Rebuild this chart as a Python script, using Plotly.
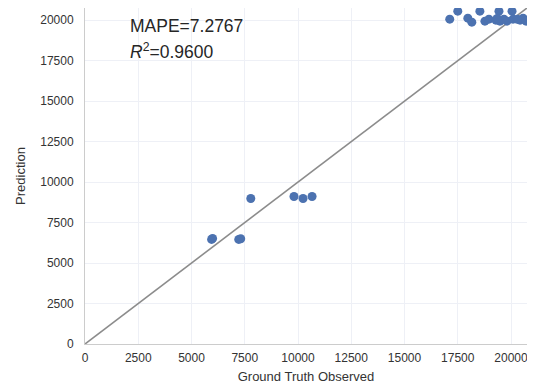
import plotly.graph_objects as go

observed = [5943, 5990, 7217, 7311, 7783, 9811, 10236, 10660,
            17123, 17500, 17972, 18160, 18538, 18774, 18962, 19292, 19434,
            19481, 19670, 19811, 20047, 20094, 20425, 20566, 20708, 19350, 20300]
predicted = [6461, 6520, 6461, 6500, 8985, 9108, 8985, 9108,
             20062, 20554, 20123, 19877, 20554, 19938, 20062, 20000, 20554,
             19938, 20062, 19938, 20554, 20062, 20000, 20123, 19938, 20100, 20050]
axis_max = 20750
tick_vals = [0, 2500, 5000, 7500, 10000, 12500, 15000, 17500, 20000]
tick_text = [str(v) for v in tick_vals]
mape_text = "MAPE=7.2767"
r2_text = "<i>R</i><sup>2</sup>=0.9600"

fig = go.Figure()
fig.add_trace(go.Scatter(x=[0, axis_max], y=[0, axis_max], mode="lines",
                         line=dict(color="#8c8c8c", width=1.6), showlegend=False,
                         hoverinfo="skip"))
fig.add_trace(go.Scatter(x=observed, y=predicted, mode="markers",
                         marker=dict(color="#4c72b0", size=9, line=dict(width=0)),
                         showlegend=False, cliponaxis=True))

fig.add_annotation(x=2000, y=19650, xref="x", yref="y", text=mape_text, showarrow=False,
                   xanchor="left", yanchor="middle",
                   font=dict(family="Liberation Sans, Arial", size=17.5, color="#262626"))
fig.add_annotation(x=2000, y=18100, xref="x", yref="y", text=r2_text, showarrow=False,
                   xanchor="left", yanchor="middle",
                   font=dict(family="Liberation Sans, Arial", size=17.5, color="#262626"))

axis_common = dict(range=[0, axis_max], tickvals=tick_vals, ticktext=tick_text, showgrid=True,
                   gridcolor="#eef0f6", gridwidth=1, zeroline=False,
                   showline=True, linecolor="#cccccc", linewidth=1, mirror=True,
                   ticks="", automargin=False,
                   tickfont=dict(family="Liberation Sans, Arial", size=12, color="#333333"),
                   title_font=dict(family="Liberation Sans, Arial", size=13, color="#333333"))

fig.update_layout(
    width=535, height=385,
    margin=dict(l=77, r=16, t=0, b=49),
    paper_bgcolor="white", plot_bgcolor="white",
    xaxis=dict(**axis_common, title=dict(text="Ground Truth Observed", standoff=7),
               ticklabelstandoff=3),
    yaxis=dict(**axis_common, title=dict(text="Prediction", standoff=11),
               ticklabelstandoff=8),
)

fig.write_html("out.html")
